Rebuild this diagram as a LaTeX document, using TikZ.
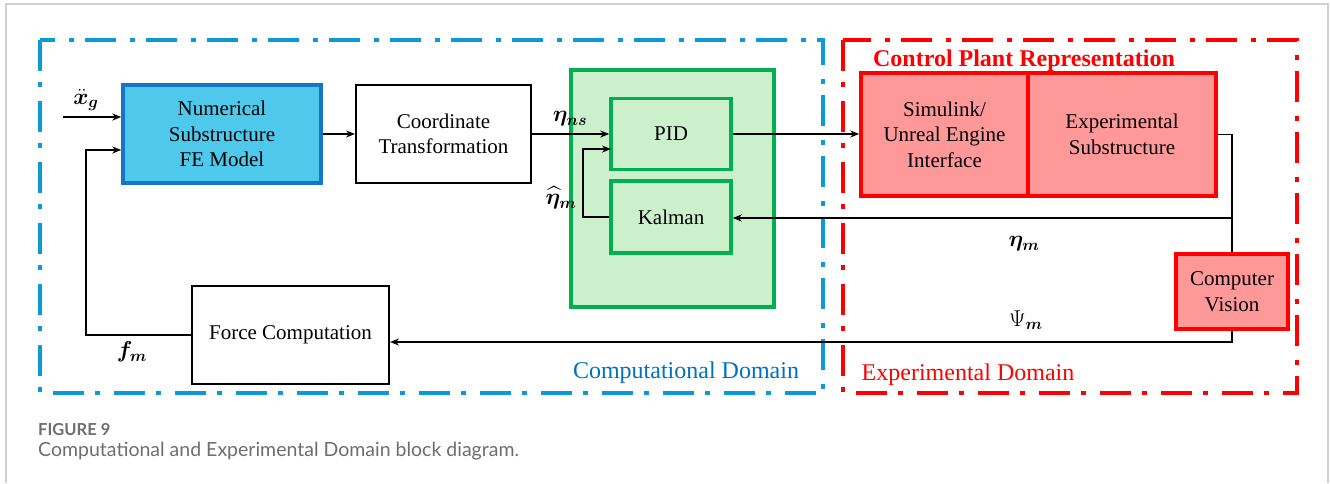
\documentclass[tikz,border=0pt]{standalone}
\usepackage{fix-cm}
\usepackage{amsmath}
\usepackage{bm}
\usepackage{fontspec}
\setmainfont{Liberation Serif}
\newfontfamily\capfont{Lato}
\usetikzlibrary{arrows.meta}

\definecolor{compblue}{HTML}{0A9AD6}
\definecolor{comptext}{HTML}{0070C0}
\definecolor{numfill}{HTML}{4FC9EB}
\definecolor{numdraw}{HTML}{1874C6}
\definecolor{ctrlgreen}{HTML}{00B050}
\definecolor{ctrlfill}{HTML}{CCF0CC}
\definecolor{plantred}{HTML}{FF0000}
\definecolor{plantfill}{HTML}{FF9999}
\definecolor{framegray}{HTML}{D0D0D0}
\definecolor{capgray}{HTML}{6E6E6E}

\tikzset{
  blocktext/.style={font=\rmfamily\fontsize{21}{25.5}\selectfont, align=center, inner sep=0pt},
  plainbox/.style={blocktext, draw=black, line width=2pt, fill=white},
  numbox/.style={blocktext, draw=numdraw, line width=3.5pt, fill=numfill},
  greenbox/.style={blocktext, draw=ctrlgreen, line width=3.5pt, fill=ctrlfill},
  redbox/.style={blocktext, draw=plantred, line width=3.5pt, fill=plantfill},
  sig/.style={font=\fontsize{23}{27}\selectfont, inner sep=0pt},
  conn/.style={draw=black, line width=1.6pt},
  arr/.style={conn, -{Stealth[length=9pt,width=7pt]}},
  domainline/.style={line width=4.5pt, dash pattern=on 31pt off 11pt on 5pt off 14pt},
}

\begin{document}
\begin{tikzpicture}[x=1pt,y=-1pt]
  \useasboundingbox (0,0) rectangle (1330,483);
  \fill[white] (0,0) rectangle (1330,483);

  % page frame
  \draw[framegray, line width=1.5pt] (6,483) -- (6,4) -- (1328,4) -- (1328,483);

  % domain frames
  \draw[domainline, draw=compblue] (40,40) rectangle (823,393);
  \draw[domainline, draw=plantred, line width=4pt] (843,40) rectangle (1297,393);

  % controller group
  \node[greenbox, minimum width=203pt, minimum height=237pt] (ctrl) at (672.5,188.5) {};

  % blocks
  \node[numbox, minimum width=198pt, minimum height=98pt] (num) at (222,134) {Numerical\\Substructure\\FE Model};
  \node[plainbox, minimum width=175pt, minimum height=98pt] (coord) at (443.5,134) {Coordinate\\Transformation};
  \node[greenbox, minimum width=120pt, minimum height=71pt] (pid) at (671,134) {PID};
  \node[greenbox, minimum width=120pt, minimum height=72pt] (kalman) at (671,217) {Kalman};
  \node[redbox, minimum width=167pt, minimum height=123pt] (sim) at (944.5,134.5) {Simulink/\\Unreal Engine\\Interface};
  \node[redbox, minimum width=188pt, minimum height=123pt] (exp) at (1122,134.5) {Experimental\\Substructure};
  \node[redbox, minimum width=112pt, minimum height=75pt] (cv) at (1232,291.5) {Computer\\Vision};
  \node[plainbox, minimum width=197pt, minimum height=98pt] (force) at (290.5,335) {Force Computation};

  % titles
  \node[font=\rmfamily\fontsize{24}{28}\selectfont\bfseries, text=plantred, inner sep=0pt] (plantTitle) at (1024,61) {Control Plant Representation};
  \node[font=\rmfamily\fontsize{24}{28}\selectfont, text=comptext, inner sep=0pt] (compTitle) at (686,373) {Computational Domain};
  \node[font=\rmfamily\fontsize{24}{28}\selectfont, text=plantred, inner sep=0pt] (expTitle) at (968,375) {Experimental Domain};

  % connector corners
  \coordinate (xin) at (63,117);
  \coordinate (pidfb) at (611,149);
  \coordinate (tap) at (1232,134.5);
  \coordinate (psicorner) at (1232,342);
  \coordinate (fbtop) at (86,150);

  % signal flow
  \draw[arr] (xin) -- (xin -| num.west);
  \draw[arr] (num.east) -- (coord.west);
  \draw[arr] (coord.east) -- (coord.east -| pid.west);
  \draw[arr] (kalman.west) -- ++(-26,0) |- (pidfb);
  \draw[arr] (pid.east) -- (pid.east -| sim.west);
  \draw[conn, line width=1.4pt] (exp.east) -- (tap) -- (cv.north);
  \draw[arr, line width=1.4pt] (cv.north |- 0,218) -- (kalman.east |- 0,218);
  \draw[arr, line width=1.4pt] (cv.south) -- (psicorner) -- (psicorner -| force.east);
  \draw[arr] (force.west) -| (fbtop) -- (fbtop -| num.west);

  % signal labels
  \node[sig] (lxg) at (86,100) {$\ddot{\bm x}_{\bm g}$};
  \node[sig] (lns) at (570,119) {$\bm\eta_{\bm{ns}}$};
  \node[sig] (lhat) at (561,198) {$\widehat{\bm\eta}_{\bm m}$};
  \node[sig] (lm) at (1024,244) {$\bm\eta_{\bm m}$};
  \node[sig] (lpsi) at (1026,320) {$\Psi_{\bm m}$};
  \node[sig] (lf) at (132,352) {$\bm f_{\bm m}$};

  % caption
  \node[anchor=west, font=\capfont\fontsize{16.5}{18}\selectfont\bfseries, text=capgray, inner sep=0pt] (figno) at (38,430) {FIGURE 9};
  \node[anchor=west, font=\capfont\fontsize{19.5}{22}\selectfont, text=capgray, inner sep=0pt] (figcap) at (38,451) {Computational and Experimental Domain block diagram.};
\end{tikzpicture}
\end{document}
